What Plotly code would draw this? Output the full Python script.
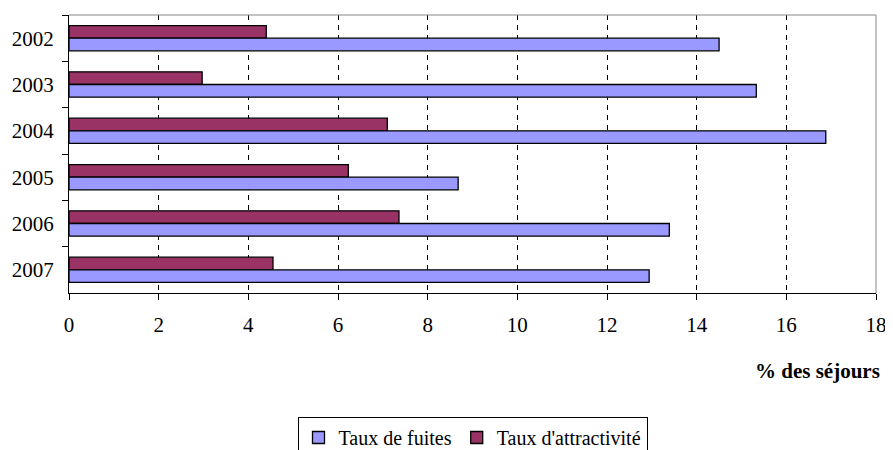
import plotly.graph_objects as go

years = ["2002", "2003", "2004", "2005", "2006", "2007"]
taux_fuites = [14.5, 15.33, 16.88, 8.68, 13.39, 12.94]
taux_attractivite = [4.40, 2.97, 7.10, 6.23, 7.36, 4.55]
x_ticks = [0, 2, 4, 6, 8, 10, 12, 14, 16, 18]

FONT = "Liberation Serif"
FS = 20
TICK_FS = 21

fig = go.Figure()
fig.add_trace(go.Bar(
    y=years, x=taux_attractivite, orientation="h", name="Taux d'attractivité",
    marker=dict(color="#993366", line=dict(color="black", width=1.3)),
    legendrank=2,
))
fig.add_trace(go.Bar(
    y=years, x=taux_fuites, orientation="h", name="Taux de fuites",
    marker=dict(color="#9999FF", line=dict(color="black", width=1.3)),
    legendrank=1,
))

fig.update_layout(
    width=885, height=442,
    margin=dict(l=61, r=17, t=7, b=157, autoexpand=False),
    paper_bgcolor="white", plot_bgcolor="white",
    barmode="group", bargap=0.455, bargroupgap=0,
    font=dict(family=FONT, size=FS, color="black"),
    showlegend=True,
    legend=dict(
        orientation="h", x=0.5, xanchor="center", y=-0.446, yanchor="top",
        bordercolor="black", borderwidth=1, bgcolor="white",
        font=dict(family=FONT, size=FS), itemwidth=30, tracegroupgap=0,
    ),
    xaxis=dict(
        range=[0, 18], tickvals=x_ticks, ticktext=[str(v) for v in x_ticks],
        showline=True, linecolor="black", linewidth=1,
        ticks="outside", ticklen=6, tickcolor="black",
        tickfont=dict(family=FONT, size=TICK_FS), ticklabelstandoff=7,
        showgrid=True, gridcolor="black", gridwidth=1, griddash="5px,5px",
        zeroline=False, fixedrange=True, automargin=False,
    ),
    yaxis=dict(
        type="category", autorange="reversed",
        showline=True, linecolor="black", linewidth=1,
        ticks="outside", ticklen=6, tickcolor="black", tickson="boundaries",
        tickfont=dict(family=FONT, size=TICK_FS), ticklabelstandoff=10,
        showgrid=False, zeroline=False, fixedrange=True, automargin=False,
    ),
    shapes=[
        dict(type="line", xref="paper", yref="paper", x0=0, x1=1, y0=1, y1=1,
             line=dict(color="#888888", width=1), layer="above"),
        dict(type="line", xref="paper", yref="paper", x0=1, x1=1, y0=0, y1=1,
             line=dict(color="#888888", width=1), layer="above"),
    ],
    annotations=[
        dict(text="<b>% des séjours</b>", xref="paper", yref="paper",
             x=1.008, y=-0.281, xanchor="right", yanchor="middle",
             showarrow=False, font=dict(family=FONT, size=21)),
    ],
)

fig.write_html("out.html")
